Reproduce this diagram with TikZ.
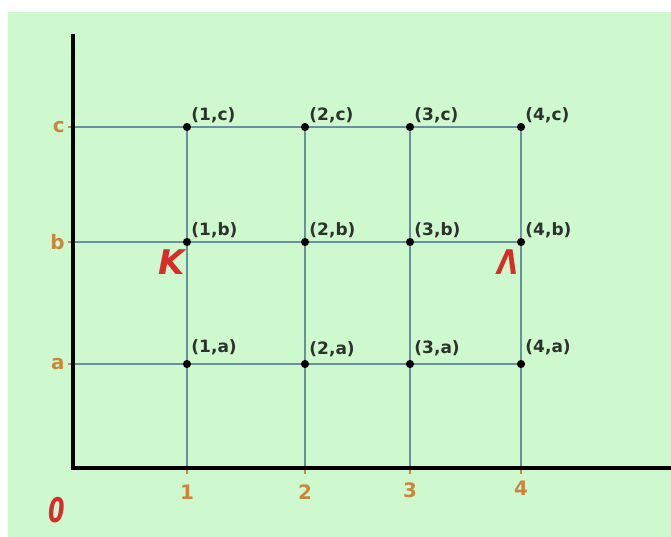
\documentclass[tikz,border=0pt]{standalone}
\usepackage{fontspec}
\setmainfont{DejaVu Sans}
\usetikzlibrary{positioning,backgrounds}

\definecolor{paper}{RGB}{206,248,206}
\definecolor{gridline}{RGB}{105,145,155}
\definecolor{axislabel}{RGB}{200,135,60}
\definecolor{pen}{RGB}{215,45,40}
\definecolor{ink}{RGB}{45,50,45}

\tikzset{
  dot/.style={circle, fill=black, inner sep=0pt, minimum size=7pt},
  pt/.style={font=\bfseries\fontsize{14.5}{16}\selectfont, text=ink, inner sep=1pt},
  axislbl/.style={font=\bfseries\fontsize{17}{19}\selectfont, text=axislabel, inner sep=1pt},
  hand/.style={font=\bfseries\itshape\fontsize{29}{31}\selectfont, text=pen, inner sep=0pt},
  gridln/.style={draw=gridline, line width=1.3pt},
  tick/.style={draw=axislabel, line width=1pt},
}

\begin{document}
\begin{tikzpicture}[x=0.03cm, y=-0.03cm]
    \useasboundingbox (0,0) rectangle (671,537);

    % axes and ticks
    \coordinate (o) at (73,468);
    \coordinate (ytop) at (73,34);
    \coordinate (xend) at (671,468);
    \coordinate (x1) at (187,468);
    \coordinate (x2) at (305,468);
    \coordinate (x3) at (410,468);
    \coordinate (x4) at (521,468);
    \coordinate (ya) at (73,364);
    \coordinate (yb) at (73,242);
    \coordinate (yc) at (73,127);

    % points
    \node[dot, label={[pt]above right:{(1,c)}}] (p1c) at (187,127) {};
    \node[dot, label={[pt]above right:{(2,c)}}] (p2c) at (305,127) {};
    \node[dot, label={[pt]above right:{(3,c)}}] (p3c) at (410,127) {};
    \node[dot, label={[pt]above right:{(4,c)}}] (p4c) at (521,127) {};
    \node[dot, label={[pt]above right:{(1,b)}}] (p1b) at (187,242) {};
    \node[dot, label={[pt]above right:{(2,b)}}] (p2b) at (305,242) {};
    \node[dot, label={[pt]above right:{(3,b)}}] (p3b) at (410,242) {};
    \node[dot, label={[pt]above right:{(4,b)}}] (p4b) at (521,242) {};
    \node[dot, label={[pt, yshift=4pt]above right:{(1,a)}}] (p1a) at (187,364) {};
    \node[dot, label={[pt, yshift=2pt]above right:{(2,a)}}] (p2a) at (305,364) {};
    \node[dot, label={[pt, yshift=3pt]above right:{(3,a)}}] (p3a) at (410,364) {};
    \node[dot, label={[pt, yshift=4pt]above right:{(4,a)}}] (p4a) at (521,364) {};

    \begin{scope}[on background layer]
        \fill[white] (0,0) rectangle (671,537);
        \fill[paper] (8,12) rectangle (671,537);
        \draw[gridln] (yc) -- (p4c.center);
        \draw[gridln] (yb) -- (p4b.center);
        \draw[gridln] (ya) -- (p4a.center);
        \draw[gridln] (p1c.center) -- (x1);
        \draw[gridln] (p2c.center) -- (x2);
        \draw[gridln] (p3c.center) -- (x3);
        \draw[gridln] (p4c.center) -- (x4);
    \end{scope}

    \draw[tick] (x1) -- ++(0,6);
    \draw[tick] (x2) -- ++(0,6);
    \draw[tick] (x3) -- ++(0,6);
    \draw[tick] (x4) -- ++(0,6);
    \draw[tick] (ya) -- ++(-5,0);
    \draw[tick] (yb) -- ++(-5,0);
    \draw[tick] (yc) -- ++(-5,0);
    \draw[line width=3pt, line join=miter] (ytop) -- (o) -- (xend);

    % axis labels
    \node[axislbl, below=13pt of x1] (n1) {1};
    \node[axislbl, below=13pt of x2] (n2) {2};
    \node[axislbl, below=11pt of x3] (n3) {3};
    \node[axislbl, below=10pt of x4] (n4) {4};
    \node[axislbl, left=6pt of ya] (la) {a};
    \node[axislbl, left=6pt of yb] (lb) {b};
    \node[axislbl, left=6pt of yc] (lc) {c};

    % handwritten marks
    \node[hand, xscale=0.7] (zero) at (57,510) {0};
    \node[hand] (kappa) at (172,262) {K};
    \node[hand, xscale=0.8] (lambda) at (508,262) {Λ};
\end{tikzpicture}
\end{document}
